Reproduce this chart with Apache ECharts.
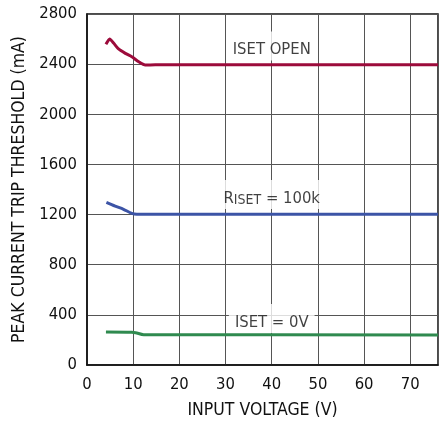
<!DOCTYPE html>
<html>
<head>
<meta charset="utf-8">
<script src="https://cdn.jsdelivr.net/npm/echarts@6/dist/echarts.min.js"></script>
<style>
html,body{margin:0;padding:0;background:#fff;}
#c{width:448px;height:421px;}
</style>
</head>
<body>
<div id="c"></div>
<script>
// Data
const xTickInterval = 10;
const yTickInterval = 400;
const xMax = 76;
const yMax = 2800;

const openX = [4.1, 4.9, 5.8, 6.7, 8.3, 9.7, 11.2, 12.6, 14.8, 76];
const openY = [2558, 2600, 2566, 2526, 2486, 2459, 2419, 2393, 2395, 2395];

const r100kX = [4.2, 6.1, 7.9, 9.7, 10.8, 76];
const r100kY = [1298, 1268, 1242, 1210, 1203, 1203];

const zeroX = [4.1, 9.7, 10.5, 12.3, 76];
const zeroY = [263, 261, 258, 242, 240];

const labelX = [40, 40, 40];
const labelY = [2545, 1360, 370];
const labelText = ['{a|ISET OPEN}', '{a|R}{s|ISET}{a| = 100k}', '{a|ISET = 0V}'];

const FONT = '"DejaVu Sans Condensed", sans-serif';
const TXT = '#111';

function pairs(xs, ys){ return xs.map((x,i)=>[x, ys[i]]); }

const chart = echarts.init(document.getElementById('c'), null, {renderer:'canvas'});
chart.setOption({
  animation:false,
  backgroundColor:'#fff',
  grid:{left:87, right:10, top:14, bottom:56, show:true, borderColor:'#111', borderWidth:1.5,
        containLabel:false, outerBoundsMode:'none'},
  xAxis:{
    type:'value', min:0, max:xMax, interval:xTickInterval,
    name:'INPUT VOLTAGE (V)', nameLocation:'middle', nameGap:36,
    nameTextStyle:{fontFamily:FONT, fontSize:17.5, color:TXT},
    axisLine:{show:true, lineStyle:{color:'#111', width:1.5}},
    axisTick:{show:false},
    axisLabel:{fontFamily:FONT, fontSize:16.5, color:TXT, margin:11, showMaxLabel:false,
               formatter:function(v){ return String(v); }},
    splitLine:{show:true, lineStyle:{color:'#555', width:1}}
  },
  yAxis:{
    type:'value', min:0, max:yMax, interval:yTickInterval,
    name:'PEAK CURRENT TRIP THRESHOLD (mA)', nameLocation:'middle', nameGap:55,
    nameTextStyle:{fontFamily:FONT, fontSize:17.5, color:TXT},
    axisLine:{show:true, lineStyle:{color:'#111', width:1.5}},
    axisTick:{show:false},
    axisLabel:{fontFamily:FONT, fontSize:16.5, color:TXT, margin:10,
               formatter:function(v){ return String(v); }},
    splitLine:{show:true, lineStyle:{color:'#555', width:1}}
  },
  series:[
    {type:'line', data:pairs(openX, openY), showSymbol:false, symbol:'none', smooth:0.2,
     lineStyle:{color:'#9c0b3b', width:3}, z:3},
    {type:'line', data:pairs(r100kX, r100kY), showSymbol:false, symbol:'none', smooth:0.3,
     lineStyle:{color:'#3c54a6', width:3}, z:3},
    {type:'line', data:pairs(zeroX, zeroY), showSymbol:false, symbol:'none', smooth:0.3,
     lineStyle:{color:'#2f8a4f', width:3}, z:3},
    {type:'scatter', data:pairs(labelX, labelY), symbolSize:1, itemStyle:{color:'rgba(0,0,0,0)'}, z:5,
     label:{show:true, position:'inside',
       formatter:function(p){ return labelText[p.dataIndex]; },
       backgroundColor:'#fff', padding:[2,6,2,6],
       rich:{
         a:{fontFamily:FONT, fontSize:16.5, color:TXT, lineHeight:25, verticalAlign:'bottom'},
         s:{fontFamily:FONT, fontSize:14, color:TXT, lineHeight:13, verticalAlign:'bottom'}
       }
     }}
  ]
});
</script>
</body>
</html>
